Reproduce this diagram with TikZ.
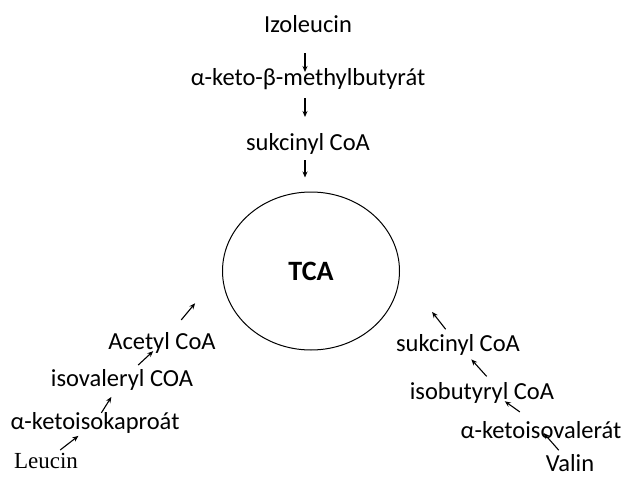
\documentclass[tikz,border=0pt]{standalone}
\usepackage{fontspec}
\setmainfont{Carlito}
\newfontfamily\serifleu{Liberation Serif}
\usepackage{tikz}
\usetikzlibrary{shapes.geometric, arrows.meta, positioning}

\begin{document}
\begin{tikzpicture}[
        x=1pt, y=-1pt,
        on grid,
        every node/.style={font=\fontsize{24.5}{28}\selectfont, inner sep=0pt, text=black},
        arr/.style={-{Stealth[length=6pt, width=5pt]}, line width=1.1pt, black}
    ]
        \useasboundingbox (0,0) rectangle (622,479);

        \node (izo) at (308,24) {Izoleucin};
        \node[below=55pt of izo] (keto) {α-keto-β-methylbutyrát};
        \node[below=65pt of keto] (suktop) {sukcinyl CoA};
        \node[draw, ellipse, line width=1pt, minimum width=177pt, minimum height=158pt, font=\fontsize{28}{32}\selectfont\bfseries] (tca) at (311,271) {TCA};

        \node[font=\fontsize{23}{26}\selectfont\serifleu] (leu) at (46,461) {Leucin};
        \node[above right=38pt and 49pt of leu] (kapro) {α-ketoisokaproát};
        \node[above right=43pt and 27pt of kapro] (isoval) {isovaleryl COA};
        \node[above right=37pt and 40pt of isoval] (acetyl) {Acetyl CoA};

        \node (val) at (570,463) {Valin};
        \node[above left=33pt and 29pt of val] (valer) {α-ketoisovalerát};
        \node[above left=37pt and 59pt of valer] (isobut) {isobutyryl CoA};
        \node[above left=48pt and 24pt of isobut] (sukright) {sukcinyl CoA};

        \draw[arr, shorten <=29pt, shorten >=7pt] ([xshift=-3pt]izo.center) -- ([xshift=-3pt]keto.center);
        \draw[arr, shorten <=19pt, shorten >=27pt] ([xshift=-3pt]keto.center) -- ([xshift=-3pt]suktop.center);
        \draw[arr, shorten <=16pt, shorten >=14pt] ([xshift=-3pt]suktop.center) -- ([xshift=-6pt]tca.north);

        \draw[arr, shorten <=18pt, shorten >=21pt] (leu.center) -- (kapro.center);
        \draw[arr, shorten <=12pt, shorten >=20pt] (kapro.center) -- (isoval.center);
        \draw[arr, shorten <=22pt, shorten >=12pt] (isoval.center) -- (acetyl.center);
        \draw[arr, shorten <=30pt, shorten >=42pt] (acetyl.center) -- (tca.west);

        \draw[arr, shorten <=17pt, shorten >=4pt] (val.center) -- (valer.center);
        \draw[arr, shorten <=26pt, shorten >=28pt] ([yshift=3pt]valer.center) -- ([yshift=8pt]isobut.center);
        \draw[arr, shorten <=8pt, shorten >=5pt] ([xshift=10pt]isobut.north) -- ([xshift=10pt]sukright.south);
        \draw[arr, shorten <=20pt, shorten >=52pt] (sukright.center) -- (tca.east);
    \end{tikzpicture}
\end{document}
